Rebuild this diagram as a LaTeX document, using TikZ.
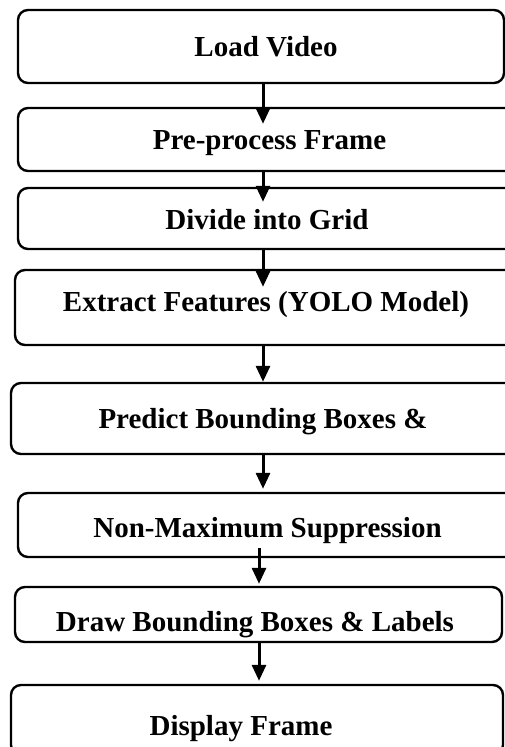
\documentclass[tikz,border=0pt]{standalone}
\usepackage{fontspec}
\setmainfont{Liberation Serif}
\usepackage{tikz}
\usetikzlibrary{arrows.meta}

\tikzset{
    stepbox/.style={draw, line width=2.4pt, rounded corners=10pt, inner sep=0pt},
    steplabel/.style={font=\bfseries\fontsize{29}{34}\selectfont, text height=19pt, text depth=0pt},
    flow/.style={line width=3pt, -{Triangle[length=16pt,width=14pt]}}
}

\begin{document}
\begin{tikzpicture}[x=1pt,y=-1pt]
    \useasboundingbox (0,0) rectangle (505,747);
    \clip (0,0) rectangle (505,747);
    % the steps, top to bottom
    \node[stepbox, minimum width=486pt, minimum height=73pt, label={[steplabel, xshift=5pt]center:Load Video}] (load) at (261,46.5) {};
    \node[stepbox, minimum width=503pt, minimum height=63pt, label={[steplabel]center:Pre-process Frame}] (pre) at (269.5,139.5) {};
    \node[stepbox, minimum width=498pt, minimum height=61pt, label={[steplabel, yshift=-1.5pt]center:Divide into Grid}] (grid) at (267,218.5) {};
    \node[stepbox, minimum width=502pt, minimum height=75pt, label={[steplabel, yshift=5.5pt]center:Extract Features (YOLO Model)}] (feat) at (266,307.5) {};
    \node[stepbox, minimum width=504pt, minimum height=71pt, label={[steplabel]center:Predict Bounding Boxes \&}] (pred) at (263,418.5) {};
    \node[stepbox, minimum width=499pt, minimum height=64pt, label={[steplabel, yshift=-2.5pt]center:Non-Maximum Suppression}] (nms) at (267.5,525) {};
    \node[stepbox, minimum width=487pt, minimum height=55pt, label={[steplabel, xshift=-3.5pt, yshift=-7pt]center:Draw Bounding Boxes \& Labels}] (boxes) at (258.5,614.5) {};
    \node[stepbox, minimum width=492pt, minimum height=70pt, label={[steplabel, xshift=-16pt, yshift=-6pt]center:Display Frame}] (disp) at (257,720) {};
    % arrows
    \coordinate (colA) at (263,0);
    \coordinate (colB) at (259,0);
    \draw[flow] (load.south -| colA) -- ([yshift=-17pt]pre.north -| colA);
    \draw[flow] (pre.south -| colA) -- ([yshift=-15pt]grid.north -| colA);
    \draw[flow] (grid.south -| colA) -- ([yshift=-18pt]feat.north -| colA);
    \draw[flow] (feat.south -| colA) -- (pred.north -| colA);
    \draw[flow] (pred.south -| colA) -- ([yshift=3pt]nms.north -| colA);
    \draw[flow] ([yshift=10pt]nms.south -| colB) -- ([yshift=2pt]boxes.north -| colB);
    \draw[flow] (boxes.south -| colB) -- ([yshift=3pt]disp.north -| colB);
\end{tikzpicture}
\end{document}
